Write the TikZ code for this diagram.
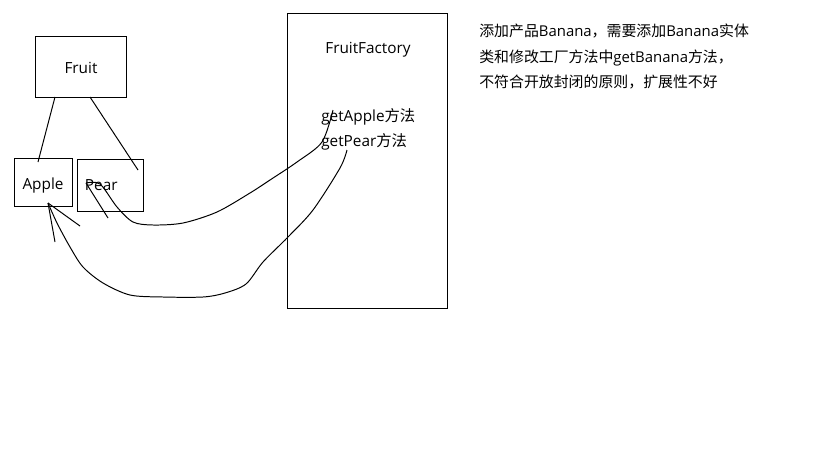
\documentclass[tikz,border=0pt]{standalone}
\usepackage{fontspec}
\setmainfont{Open Sans}
\newfontfamily\zh{Noto Sans CJK SC}

\begin{document}
\begin{tikzpicture}[
        x=0.025cm, y=-0.025cm,
        every node/.style={font=\fontsize{10.9}{18}\selectfont},
        box/.style={draw, line width=0.7pt, inner sep=0pt},
        pen/.style={line width=0.7pt}
    ]
        \useasboundingbox (0,0) rectangle (819,460);

        % Classes
        \node[box, minimum width=2.25cm, minimum height=1.525cm, text height=1.1em, text depth=0.1em] (fruit) at (81,66.5) {Fruit};
        \node[box, minimum width=1.45cm, minimum height=1.2cm, text height=1.1em, text depth=0.1em] (apple) at (43,182) {Apple};
        \node[box, minimum width=1.65cm, minimum height=1.3cm, inner xsep=0.2cm, text width=1.25cm, align=left] (pear) at (110,185) {Pear};

        % Factory
        \node[box, minimum width=3.975cm, minimum height=7.35cm] (factory) at (367.5,161) {};
        \node (factoryTitle) at (368,50) {FruitFactory};
        \node[anchor=west, inner sep=0pt] (getApple) at (321,117) {getApple{\zh 方法}};
        \node[anchor=west, inner sep=0pt] (getPear) at (321,142) {getPear{\zh 方法}};

        % Note
        \node[anchor=north west, align=left, inner sep=0pt, font=\fontsize{10.6}{18.1}\selectfont] (note) at (479,24) {{\zh 添加产品}Banana{\zh ，需要添加}Banana{\zh 实体}\\{\zh 类和修改工厂方法中}getBanana{\zh 方法，}\\{\zh 不符合开放封闭的原则，扩展性不好}};

        % Inheritance lines
        \coordinate (fruitL) at (55,97);
        \coordinate (fruitR) at (90,97);
        \coordinate (appleIn) at (38,162);
        \coordinate (pearIn) at (138,170);
        \draw[pen] (fruitL) -- (appleIn);
        \draw[pen] (fruitR) -- (pearIn);

        % Hand-drawn arrows
        \coordinate (appleCall) at (333,110);
        \coordinate (pearTip) at (86,183);
        \draw[pen] plot[smooth, tension=0.5] coordinates {(appleCall) (322,142) (297,162) (270,180) (250,193) (217,212) (183,223) (153,225) (133,222) (117,207) (100,184) (pearTip)};
        \draw[pen] (pearTip) -- ++(22,35);

        \coordinate (pearCall) at (347,150);
        \coordinate (appleTip) at (48,203);
        \draw[pen] plot[smooth, tension=0.5] coordinates {(pearCall) (340,168) (313,210) (288,237) (263,262) (246,284) (225,293) (203,297) (163,297) (130,295) (103,283) (83,267) (70,247) (57,223) (appleTip)};
        \draw[pen] (appleTip) -- ++(7,39);
        \draw[pen] (appleTip) -- ++(32,23);
    \end{tikzpicture}
\end{document}
